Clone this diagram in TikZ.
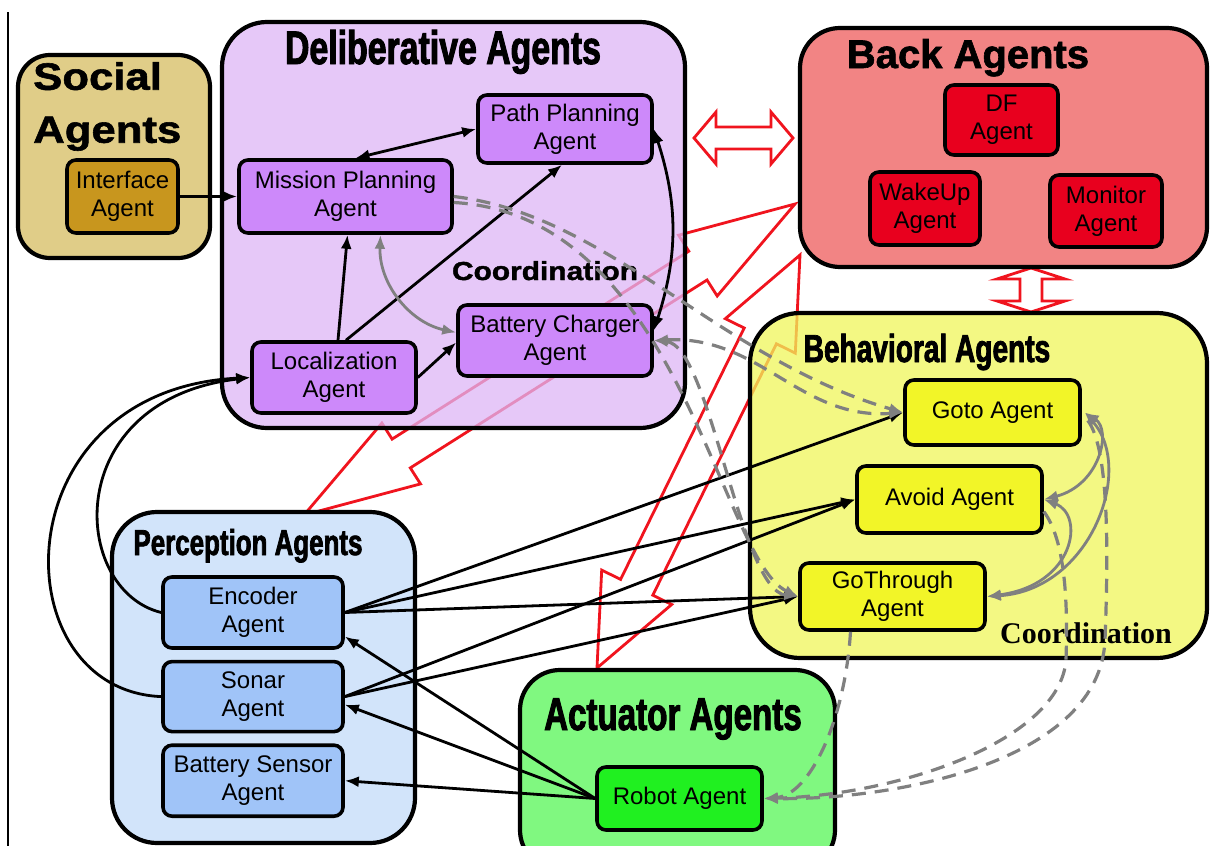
\documentclass[tikz,border=0pt]{standalone}
\usepackage{fontspec}
\setmainfont{Liberation Sans}
\newfontfamily\coordserif{Liberation Serif}
\newfontfamily\widesans[FakeStretch=1.15, BoldFeatures={FakeBold=1.5}]{Liberation Sans}
\newfontfamily\narrowsans[FakeStretch=0.72, BoldFeatures={FakeBold=2}]{Liberation Sans}
\newfontfamily\heavysans[BoldFeatures={FakeBold=1.5}]{Liberation Sans}
\usetikzlibrary{positioning, arrows.meta}

\definecolor{socialfill}{RGB}{224,205,136}
\definecolor{socialagent}{RGB}{200,150,30}
\definecolor{delibfill}{RGB}{222,182,246}
\definecolor{delibagent}{RGB}{205,137,250}
\definecolor{backfill}{RGB}{242,132,132}
\definecolor{backagent}{RGB}{232,0,30}
\definecolor{behavfill}{RGB}{240,246,90}
\definecolor{behavagent}{RGB}{242,245,40}
\definecolor{percfill}{RGB}{210,228,250}
\definecolor{percagent}{RGB}{160,196,248}
\definecolor{actfill}{RGB}{128,248,128}
\definecolor{actagent}{RGB}{32,240,32}
\definecolor{linkgray}{RGB}{128,128,128}
\definecolor{boltred}{RGB}{240,20,30}

\tikzset{
  groupbox/.style={draw=black, line width=4.2pt, rounded corners=40pt},
  agent/.style={draw=black, line width=3.6pt, rounded corners=9pt, align=center,
    inner sep=0pt, font=\fontsize{24}{28}\selectfont},
  narrowtitle/.style={inner sep=0pt, anchor=base,
    font=\narrowsans\bfseries\fontsize{#1}{#1}\selectfont},
  link/.style={line width=2.8pt, ->},
  twoway/.style={<->},
  graylink/.style={link, draw=linkgray},
  graydash/.style={graylink, line width=3.2pt, dash pattern=on 14pt off 9pt},
  bolt/.style={draw=boltred, line width=2.8pt},
}

\begin{document}
\begin{tikzpicture}[x=1pt, y=-1pt, >={Latex[length=14pt,width=11pt]}]
        % Page frame
        \useasboundingbox (0,0) rectangle (1211,846);
        \clip (0,0) rectangle (1211,846);
        \fill[white] (0,0) rectangle (1211,846);
        \draw[line width=1.5pt] (8,12) -- (8,846);

        % Red message arrows (drawn first, boxes are see-through)
        \draw[bolt] (304,515) -- (381.9,423.1) -- (392.1,439.1) -- (688.8,251.2) -- (678.6,235.2)
            -- (795,204) -- (717.2,296) -- (707,280) -- (410.3,467.9) -- (420.5,483.9) -- cycle;
        \draw[bolt] (597,668) -- (601.7,570.1) -- (620.6,579.4) -- (744.2,328) -- (725.3,318.7)
            -- (800,255) -- (795.3,353.1) -- (776.4,343.8) -- (652.8,595.2) -- (671.7,604.5) -- cycle;
        \draw[bolt, fill=white] (694,138) -- (716,112) -- (716,127) -- (771,127) -- (771,112)
            -- (793,138) -- (771,164) -- (771,149) -- (716,149) -- (716,164) -- cycle;
        \draw[bolt, fill=white] (1031,268) -- (1065,279) -- (1042,279) -- (1042,301) -- (1065,301)
            -- (1031,312) -- (997,301) -- (1020,301) -- (1020,279) -- (997,279) -- cycle;

        % Agent groups
        \node[groupbox, fill=socialfill, rounded corners=32pt, minimum width=192pt, minimum height=203pt] (social) at (114,156.5) {};
        \node[groupbox, fill=delibfill, fill opacity=0.75, rounded corners=45pt, minimum width=463pt, minimum height=406pt] (deliberative) at (453.5,225) {};
        \node[groupbox, fill=backfill, minimum width=407pt, minimum height=239pt] (back) at (1003.5,147.5) {};
        \node[groupbox, fill=behavfill, fill opacity=0.75, rounded corners=50pt, minimum width=457pt, minimum height=345pt] (behavioral) at (978.5,485.5) {};
        \node[groupbox, fill=percfill, rounded corners=45pt, minimum width=303pt, minimum height=331pt] (perception) at (263.5,677.5) {};
        \node[groupbox, fill=actfill, minimum width=315pt, minimum height=200pt] (actuator) at (677.5,770) {};

        % Group titles
        \node[inner sep=0pt, anchor=north west, align=left, font=\widesans\bfseries\fontsize{38}{53}\selectfont] (socialtitle) at (33,62) {Social\\Agents};
        \node[narrowtitle=47] (delibtitle) at (443,64) {Deliberative Agents};
        \node[inner sep=0pt, anchor=base, font=\heavysans\bfseries\fontsize{40}{40}\selectfont] (backtitle) at (968,68) {Back Agents};
        \node[narrowtitle=39] (behavtitle) at (927,362) {Behavioral Agents};
        \node[narrowtitle=36] (perctitle) at (248,555) {Perception Agents};
        \node[narrowtitle=46] (acttitle) at (673,730) {Actuator Agents};
        \node[inner sep=0pt, anchor=base, font=\widesans\bfseries\fontsize{26}{26}\selectfont] (delibcoord) at (545,280) {Coordination};
        \node[inner sep=0pt, anchor=base, font=\coordserif\bfseries\fontsize{30}{30}\selectfont] (behavcoord) at (1086,643) {Coordination};

        % Agents
        \node[agent, fill=socialagent, minimum width=111pt, minimum height=73pt] (iface) at (122.5,196.5) {Interface\\Agent};
        \node[agent, fill=delibagent, minimum width=213pt, minimum height=73pt] (mission) at (345.5,196.5) {Mission Planning\\Agent};
        \node[agent, fill=delibagent, minimum width=174pt, minimum height=68pt] (path) at (565,129) {Path Planning\\Agent};
        \node[agent, fill=delibagent, minimum width=164pt, minimum height=71pt] (local) at (334,377.5) {Localization\\Agent};
        \node[agent, fill=delibagent, minimum width=194pt, minimum height=71pt] (charger) at (555,340.5) {Battery Charger\\Agent};
        \node[agent, fill=backagent, minimum width=113pt, minimum height=70pt] (df) at (1001.5,120) {DF\\Agent};
        \node[agent, fill=backagent, minimum width=110pt, minimum height=73pt] (wakeup) at (925,208.5) {WakeUp\\Agent};
        \node[agent, fill=backagent, minimum width=112pt, minimum height=72pt] (monitor) at (1106,211) {Monitor\\Agent};
        \node[agent, fill=behavagent, minimum width=175pt, minimum height=65pt] (goto) at (992.5,412.5) {Goto Agent};
        \node[agent, fill=behavagent, minimum width=185pt, minimum height=67pt] (avoid) at (949.5,499.5) {Avoid Agent};
        \node[agent, fill=behavagent, minimum width=185pt, minimum height=67pt] (gothrough) at (892.5,596.5) {GoThrough\\Agent};
        \node[agent, fill=percagent, minimum width=180pt, minimum height=71pt] (encoder) at (253,612.5) {Encoder\\Agent};
        \node[agent, fill=percagent, minimum width=180pt, minimum height=70pt, below=10pt of encoder] (sonar) {Sonar\\Agent};
        \node[agent, fill=percagent, minimum width=180pt, minimum height=71pt, below=10pt of sonar] (battsensor) {Battery Sensor\\Agent};
        \node[agent, fill=actagent, minimum width=165pt, minimum height=63pt] (robot) at (679.5,798.5) {Robot Agent};

        % Deliberative links
        \draw[link] (iface) -- (mission);
        \draw[link, twoway] ([xshift=10pt]mission.north) -- (path.west);
        \draw[link] ([xshift=4pt]local.north) -- ([xshift=2pt]mission.south);
        \draw[link] ([xshift=12pt]local.north) -- ([xshift=-3pt]path.south);
        \draw[link] (local.east) -- ([yshift=-2pt]charger.west);
        \draw[link, twoway] (path.east) to[bend left=18] ([yshift=10pt]charger.east);
        \draw[graylink, twoway] ([xshift=35pt]mission.south) to[bend right=40] ([yshift=8pt]charger.west);

        % Perception to localization
        \draw[link] (encoder.west) .. controls (70,590) and (60,400) .. (local.west);
        \draw[link] (sonar.west) .. controls (0,690) and (0,390) .. (local.west);

        % Perception to behaviors
        \draw[link] (encoder.east) -- (goto.west);
        \draw[link] (encoder.east) -- (avoid.west);
        \draw[link] (encoder.east) -- (gothrough.west);
        \draw[link] (sonar.east) -- (avoid.west);
        \draw[link] (sonar.east) -- (gothrough.west);

        % Robot feedback
        \draw[link] (robot.west) -- ([yshift=-24pt]encoder.east);
        \draw[link] (robot.west) -- ([yshift=-8pt]sonar.east);
        \draw[link] (robot.west) -- (battsensor.east);

        % Behavior coordination
        \draw[graylink, twoway] ([xshift=3pt]goto.east) .. controls (1112,430) and (1100,485) .. (avoid.east);
        \draw[graylink, twoway] ([xshift=3pt]goto.east) .. controls (1135,470) and (1090,590) .. (gothrough.east);
        \draw[graylink, twoway] (avoid.east) .. controls (1085,515) and (1075,585) .. (gothrough.east);

        % Dashed commands
        \draw[graydash] (mission.east) .. controls (610,215) and (720,360) .. (goto.west);
        \draw[graydash] ([yshift=-6pt]mission.east) .. controls (680,215) and (720,560) .. (gothrough.west);
        \draw[graydash, twoway] (charger.east) .. controls (760,335) and (800,420) .. (goto.west);
        \draw[graydash, twoway] (charger.east) .. controls (710,345) and (740,590) .. (gothrough.west);
        \draw[graydash] ([xshift=-42pt]gothrough.south) .. controls (845,720) and (810,795) .. (robot.east);
        \draw[graydash] ([xshift=6pt,yshift=-8pt]goto.east) .. controls (1110,450) and (1108,560) .. (1105,640)
            .. controls (1100,760) and (900,800) .. (robot.east);
        \draw[graydash] ([yshift=-12pt]avoid.east) .. controls (1065,540) and (1068,600) .. (1066,660)
            .. controls (1060,740) and (900,795) .. (robot.east);
    \end{tikzpicture}
\end{document}
